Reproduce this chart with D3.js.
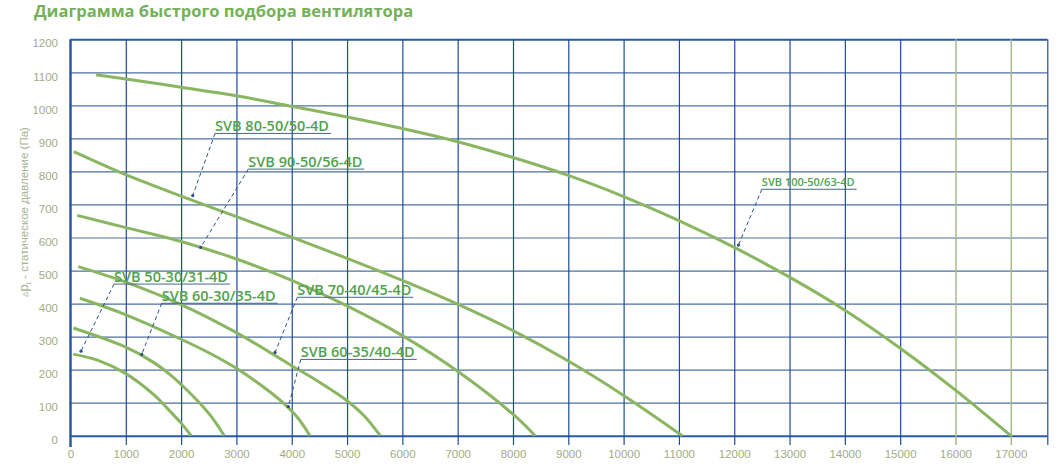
<html>
<head>
<meta charset="utf-8">
<title>Диаграмма быстрого подбора вентилятора</title>
<style type="text/css">
* { margin: 0; padding: 0; }
body { background: #fff; }
text.tick { font-family: "Liberation Sans", Arial, sans-serif; font-size: 11.5px; fill: #a3ab86; }
text.curveLabel { font-family: "Open Sans", sans-serif; font-weight: 600; fill: #4fa24c; }
text.title { font-family: "Open Sans", sans-serif; font-weight: 700; font-size: 16.5px; fill: #74b159; }
text.yTitle { font-family: "Liberation Sans", Arial, sans-serif; font-size: 11.5px; fill: #a9b08f; }
</style>
<script src="https://cdnjs.cloudflare.com/ajax/libs/d3/7.8.5/d3.min.js"></script>
</head>
<body>
<svg id="chart" width="1061" height="471"></svg>
<script type="text/javascript">
// tick labels
var flowTicks = [0, 1000, 2000, 3000, 4000, 5000, 6000, 7000, 8000, 9000, 10000,
                 11000, 12000, 13000, 14000, 15000, 16000, 17000];
var pressureTicks = [0, 100, 200, 300, 400, 500, 600, 700, 800, 900, 1000, 1100, 1200];

// fan curves: [flow m3/h, static pressure Pa]
var svb50_30_31 = [[50,247],[500,228],[1000,188],[1500,125],[1800,74],[2000,38],[2180,0]];
var svb60_30_35 = [[50,326],[1000,268],[1500,222],[1800,185],[2000,155],[2300,105],[2550,57],[2780,0]];
var svb60_35_40 = [[170,416],[1000,366],[2000,292],[2500,251],[3000,204],[3500,146],[3800,106],[4100,56],[4330,0]];
var svb70_40_45 = [[140,512],[1000,465],[2000,397],[3000,312],[4000,212],[4500,162],[5000,106],[5300,62],[5600,0]];
var svb90_50_56 = [[120,667],[1000,630],[2000,588],[3000,535],[4000,470],[5000,393],[6000,303],[7000,195],[8000,65],[8400,0]];
var svb80_50_50 = [[60,860],[1000,790],[2000,725],[3000,663],[4000,601],[5000,537],[6000,470],[7000,398],[8000,318],[9000,226],[10000,122],[11060,0]];
var svb100_50_63 = [[460,1093],[1000,1080],[2000,1055],[3000,1029],[4000,997],[5000,965],[6000,930],[7000,890],[8000,842],[9000,788],[10000,724],[11000,651],[12000,570],[13000,480],[14000,380],[15000,265],[16000,138],[17000,0]];

var curves = [svb50_30_31, svb60_30_35, svb60_35_40, svb70_40_45, svb90_50_56, svb80_50_50, svb100_50_63];
var modelNames = ["SVB 50-30/31-4D", "SVB 60-30/35-4D", "SVB 60-35/40-4D", "SVB 70-40/45-4D",
                  "SVB 90-50/56-4D", "SVB 80-50/50-4D", "SVB 100-50/63-4D"];

// label callouts, in chart units: where the underline starts and where the leader points
var labelAnchors = [[787,459],[1649,401],[4163,231],[4101,419],[3215,807],[2613,915],[12499,746]];
var leaderEnds = [[190,256],[1288,246],[3939,88],[3698,252],[2354,570],[2210,727],[12076,577]];

window.onload = function() {
  var svg = d3.select("#chart");

  var x = d3.scaleLinear().domain([0, 17660]).range([70.5, 1047.3]);
  var y = d3.scaleLinear().domain([0, 1200]).range([435.7, 39.3]);

  svg.append("text").attr("class", "title").attr("x", 34).attr("y", 17)
    .text("Диаграмма быстрого подбора вентилятора");

  // horizontal grid
  svg.append("g")
    .attr("transform", "translate(" + x(0) + ",0)")
    .call(d3.axisRight(y).tickValues(pressureTicks).tickSize(x.range()[1] - x(0)).tickFormat(""))
    .call(function(g) {
      g.select(".domain").remove();
      g.selectAll(".tick line")
        .attr("stroke", function(d) { return d == 0 || d == 1200 ? "#2a5a9f" : "#4d6fa3"; })
        .attr("stroke-width", function(d) { return d == 0 || d == 1200 ? 2 : 1.2; });
    });

  // vertical grid
  svg.append("g")
    .attr("transform", "translate(0," + y(1200) + ")")
    .call(d3.axisBottom(x).tickValues(flowTicks.slice(1).concat([17660])).tickSize(445 - y(1200)).tickFormat(""))
    .call(function(g) {
      g.select(".domain").remove();
      g.selectAll(".tick line")
        .attr("stroke", function(d) { return d == 16000 || d == 17000 ? "#a8ba8a" : "#1e4c98"; })
        .attr("stroke-width", function(d) { return d == 16000 || d == 17000 ? 1.5 : 1.2; });
    });

  // left axis line
  svg.append("line")
    .attr("x1", x(0)).attr("x2", x(0))
    .attr("y1", y(1200)).attr("y2", 447)
    .attr("stroke", "#2b5a9c").attr("stroke-width", 2.5);

  // tick labels
  svg.append("g")
    .attr("transform", "translate(0,449)")
    .call(d3.axisBottom(x).tickValues(flowTicks).tickSize(0).tickPadding(0).tickFormat(d3.format("d")))
    .call(function(g) {
      g.select(".domain").remove();
      g.selectAll("text").attr("class", "tick").attr("fill", null).attr("dy", "0.75em");
    })
    .attr("font-family", null).attr("font-size", null);

  svg.append("g")
    .attr("transform", "translate(58,4)")
    .call(d3.axisLeft(y).tickValues(pressureTicks).tickSize(0).tickPadding(0).tickFormat(d3.format("d")))
    .call(function(g) {
      g.select(".domain").remove();
      g.selectAll("text").attr("class", "tick").attr("fill", null);
    })
    .attr("font-family", null).attr("font-size", null);

  // y title
  var yt = svg.append("text").attr("class", "yTitle")
    .attr("transform", "translate(28,212) rotate(-90)")
    .attr("text-anchor", "middle");
  yt.append("tspan").style("font-size", "8px").text("\u0394");
  yt.append("tspan").style("font-size", "13px").text("p");
  yt.append("tspan").style("font-size", "8px").attr("dy", 3).text("t");
  yt.append("tspan").attr("dy", -3).text(" - статическое давление (Па)");

  // curves
  var line = d3.line()
    .x(function(d) { return x(d[0]); })
    .y(function(d) { return y(d[1]); })
    .curve(d3.curveCatmullRom.alpha(0.5));

  svg.append("g").selectAll("path")
    .data(curves)
    .enter().append("path")
    .attr("d", line)
    .attr("fill", "none")
    .attr("stroke", "#8ab661")
    .attr("stroke-width", 3)
    .attr("stroke-linecap", "butt");

  // callouts
  var callouts = svg.append("g");
  modelNames.forEach(function(name, i) {
    var ax = x(labelAnchors[i][0]), ay = y(labelAnchors[i][1]);
    var ex = x(leaderEnds[i][0]), ey = y(leaderEnds[i][1]);
    var small = name == "SVB 100-50/63-4D";
    var t = callouts.append("text")
      .attr("class", "curveLabel")
      .attr("x", ax)
      .attr("y", ay - (small ? 3.5 : 2.5))
      .style("font-size", small ? "11px" : "14.5px")
      .text(name);
    var w = t.node().getComputedTextLength();
    callouts.append("line")
      .attr("x1", ax).attr("x2", ax + w + 2)
      .attr("y1", ay).attr("y2", ay)
      .attr("stroke", "#46678c").attr("stroke-width", 1);
    callouts.append("line")
      .attr("x1", ax).attr("y1", ay)
      .attr("x2", ex).attr("y2", ey)
      .attr("stroke", "#2d4f82").attr("stroke-width", 1)
      .attr("stroke-dasharray", "4,3");
    callouts.append("circle")
      .attr("cx", ex).attr("cy", ey).attr("r", 1.6)
      .attr("fill", "#2d4f82");
  });
};
</script>
</body>
</html>
